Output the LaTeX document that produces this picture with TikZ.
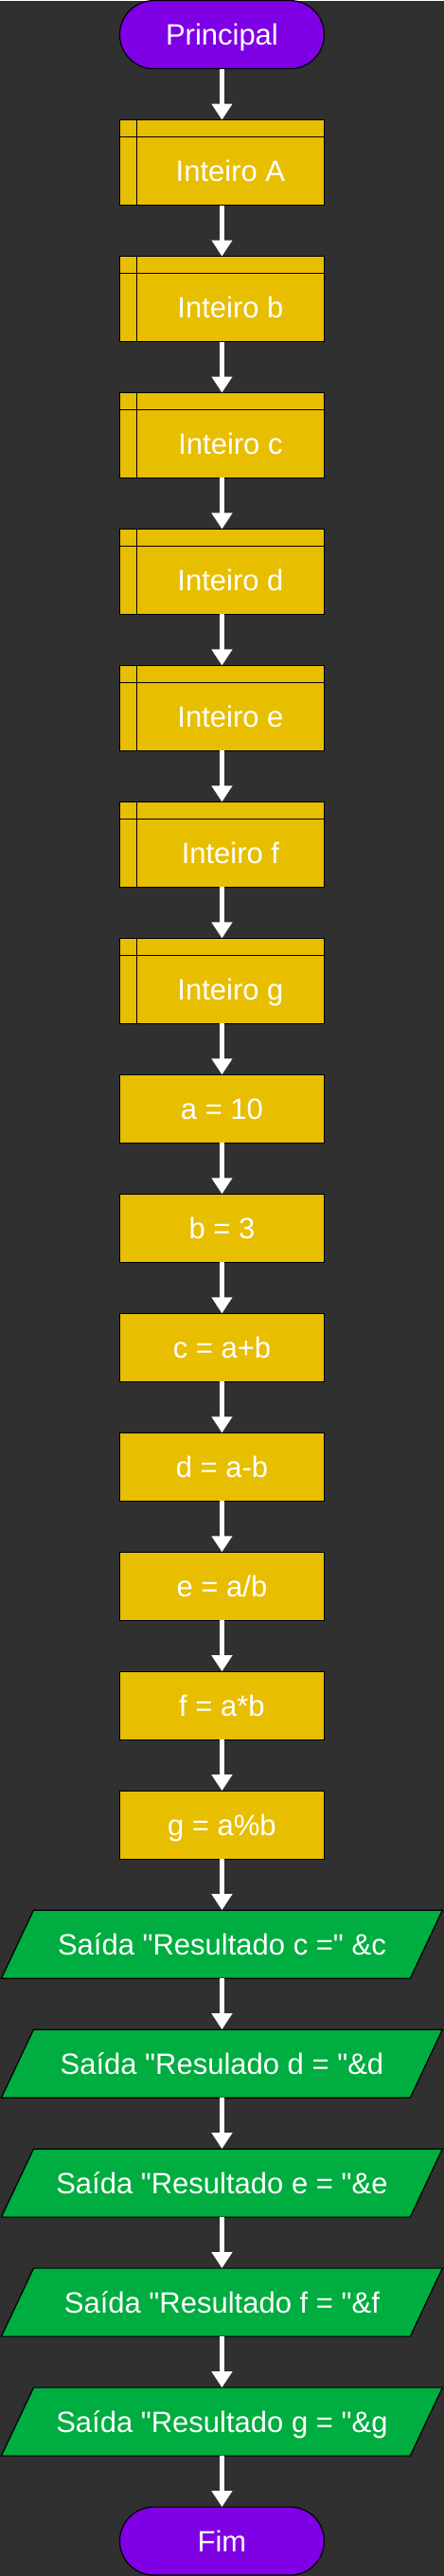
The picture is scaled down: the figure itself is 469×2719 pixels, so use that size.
\documentclass[tikz,border=0pt]{standalone}
\usepackage{fontspec}
\setmainfont{Liberation Sans}
\usepackage{xcolor}
\usepackage{tikz}
\usetikzlibrary{positioning, shapes.geometric, arrows.meta}
\definecolor{fundo}{RGB}{48,48,48}
\definecolor{roxo}{RGB}{127,0,229}
\definecolor{amarelo}{RGB}{232,190,0}
\definecolor{verde}{RGB}{0,173,64}

\begin{document}
\begin{tikzpicture}[x=1pt, y=1pt, node distance=54pt,
		every node/.style={font=\fontsize{31}{36}\selectfont, text=white, outer sep=0pt, text height=22pt, text depth=0pt},
		caixa/.style={draw=black, line width=1.2pt, minimum width=216pt, minimum height=72pt},
		terminal/.style={caixa, fill=roxo, rounded corners=36pt},
		inteiro/.style={caixa, fill=amarelo, minimum height=90pt,
			path picture={
				\draw[line width=1.2pt] ([xshift=18pt]path picture bounding box.north west) -- ([xshift=18pt]path picture bounding box.south west);
				\draw[line width=1.2pt] ([yshift=-18pt]path picture bounding box.north west) -- ([yshift=-18pt]path picture bounding box.north east);},
			label={[xshift=9pt, yshift=-9pt]center:#1}},
		proc/.style={caixa, fill=amarelo},
		saida/.style={caixa, trapezium, trapezium left angle=64.7, trapezium right angle=115.3, trapezium stretches body, inner ysep=25pt, minimum height=0pt, fill=verde, minimum width=466pt},
		seta/.style={-{Triangle[width=21pt, length=17pt]}, white, line width=5pt}]
		\fill[fundo] (0,0) rectangle (469,-2719);
		\node[terminal] (ini) at (234.5,-36) {Principal};
		\node[inteiro=Inteiro A, below=of ini] (iA) {};
		\foreach \v [remember=\v as \p (initially A)] in {b,c,d,e,f,g}
			\node[inteiro=Inteiro \v, below=of i\p] (i\v) {};
		\node[proc, below=of ig] (pa) {a = 10};
		\node[proc, below=of pa] (pb) {b = 3};
		\node[proc, below=of pb] (pc) {c = a+b};
		\node[proc, below=of pc] (pd) {d = a-b};
		\node[proc, below=of pd] (pe) {e = a/b};
		\node[proc, below=of pe] (pf) {f = a*b};
		\node[proc, below=of pf] (pg) {g = a\%b};
		\node[saida, below=of pg] (sc) {Saída \textquotedbl Resultado c =\textquotedbl{} \&c};
		\node[saida, below=of sc] (sd) {Saída \textquotedbl Resulado d = \textquotedbl\&d};
		\node[saida, below=of sd] (se) {Saída \textquotedbl Resultado e = \textquotedbl\&e};
		\node[saida, below=of se] (sf) {Saída \textquotedbl Resultado f = \textquotedbl\&f};
		\node[saida, below=of sf] (sg) {Saída \textquotedbl Resultado g = \textquotedbl\&g};
		\node[terminal, below=of sg] (fim) {Fim};
		\foreach \a/\b in {ini/iA, iA/ib, ib/ic, ic/id, id/ie, ie/if, if/ig, ig/pa, pa/pb, pb/pc, pc/pd, pd/pe, pe/pf, pf/pg, pg/sc, sc/sd, sd/se, se/sf, sf/sg, sg/fim}
			\draw[seta] (\a.south) -- (\b.north);
\end{tikzpicture}
\end{document}
